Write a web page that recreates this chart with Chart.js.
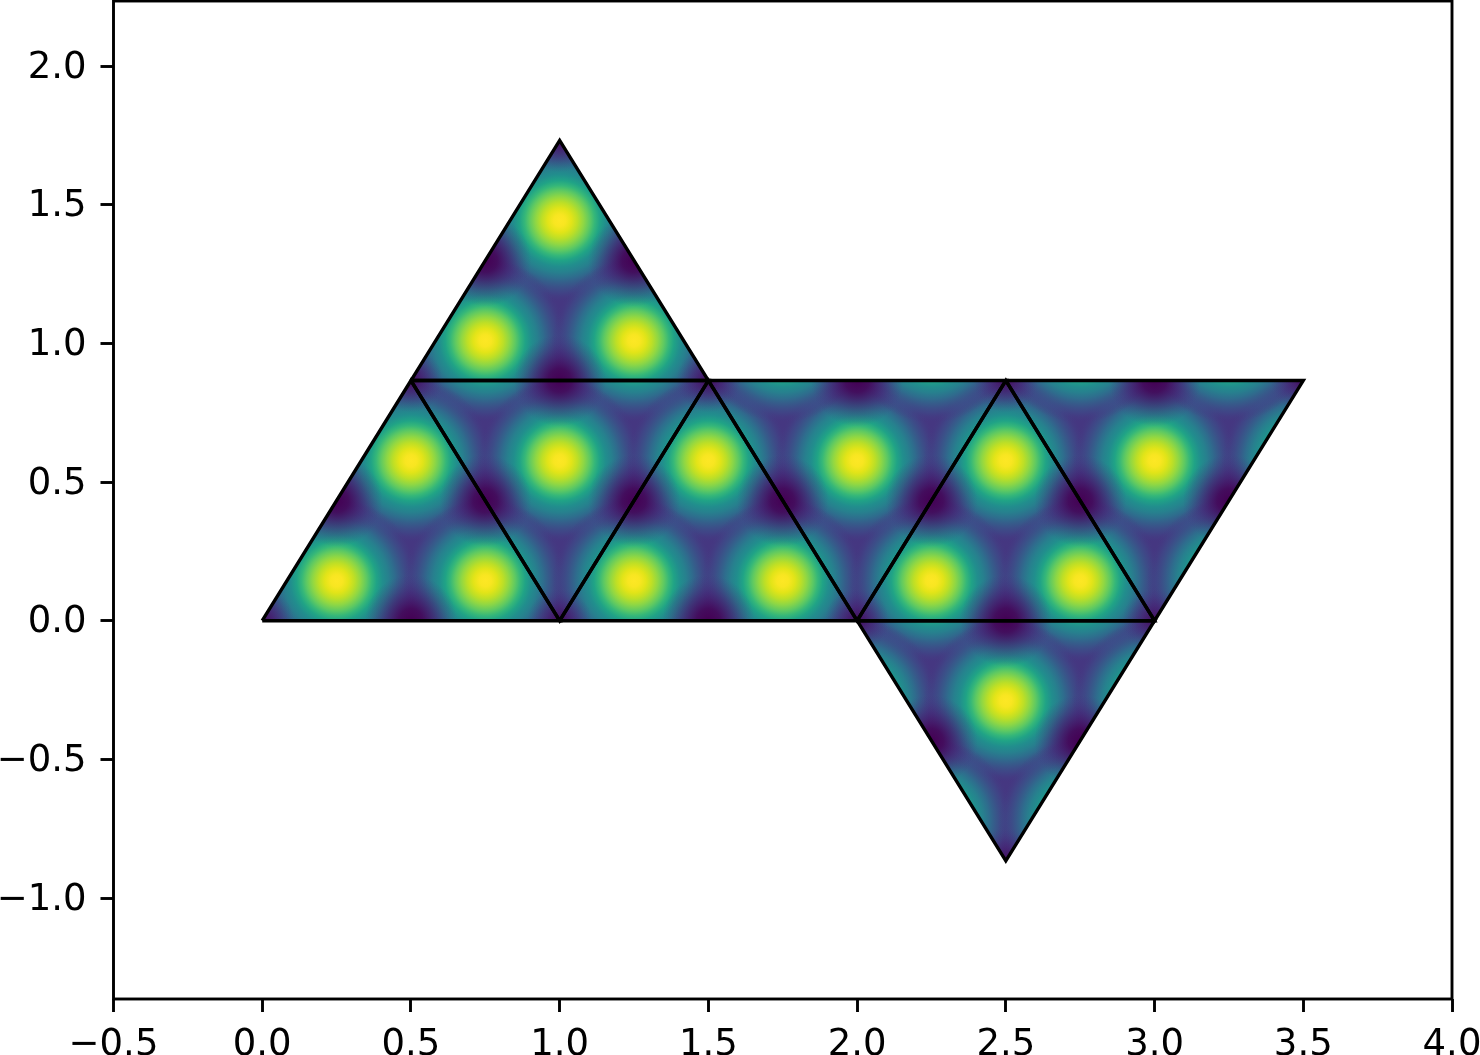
<!DOCTYPE html>
<html>
<head>
<meta charset="utf-8">
<title>net</title>
<script src="https://cdn.jsdelivr.net/npm/chart.js@4/dist/chart.umd.js"></script>
<style>
html, body { margin: 0; padding: 0; background: #fff; overflow: hidden; }
canvas { display: block; }
</style>
</head>
<body>
<canvas id="chart" width="1480" height="1055"></canvas>
<script>
// axis ticks
const xTickValues = [-0.5, 0, 0.5, 1, 1.5, 2, 2.5, 3, 3.5, 4];
const yTickValues = [-1, -0.5, 0, 0.5, 1, 1.5, 2];

// triangle faces of the net, three corners each
const faceX = [
  [0, 1, 0.5], [0.5, 1.5, 1], [1, 2, 1.5], [1.5, 2.5, 2],
  [2, 3, 2.5], [2.5, 3.5, 3], [0.5, 1.5, 1], [2, 3, 2.5]
];
const faceY = [
  [0, 0, 0.866], [0.866, 0.866, 0], [0, 0, 0.866], [0.866, 0.866, 0],
  [0, 0, 0.866], [0.866, 0.866, 0], [0.866, 0.866, 1.732], [0, 0, -0.866]
];

// outer boundary of the net
const outlineX = [0, 2, 2.5, 3, 3.5, 1.5, 1, 0];
const outlineY = [0, 0, -0.866, 0, 0.866, 0.866, 1.732, 0];

// bright spots (some sit just outside the net, only their tails show)
const peakX = [
  1,
  0.5, 1.5, 0.75, 1.25,
  0, 0.5, 1, 1.5, 2, 2.5, 3, 3.5,
  -0.25, 0.25, 0.75, 1.25, 1.75, 2.25, 2.75, 3.25,
  0.25, 1.75, 2.25, 2.75, 3.25, 3.75,
  2, 2.5, 3, 2.25, 2.75
];
const peakY = [
  1.443,
  1.443, 1.443, 1.01, 1.01,
  0.577, 0.577, 0.577, 0.577, 0.577, 0.577, 0.577, 0.577,
  0.144, 0.144, 0.144, 0.144, 0.144, 0.144, 0.144, 0.144,
  1.01, 1.01, 1.01, 1.01, 1.01, 1.01,
  -0.289, -0.289, -0.289, -0.722, -0.722
];

// dark spots at the edge middles
const dipX = [0.25, 0.75, 0.5, 1.25, 1, 0.75, 1.25, 1.5, 1.75, 2, 2.25, 2.75, 2.5, 3, 3.25, 2.25, 2.75];
const dipY = [0.433, 0.433, 0, 0.433, 0.866, 1.299, 1.299, 0, 0.433, 0.866, 0.433, 0.433, 0, 0.866, 0.433, -0.433, -0.433];

// smaller dark spots at the corners
const cornerX = [0, 1, 2, 3, 0.5, 1.5, 2.5, 3.5, 1, 2.5];
const cornerY = [0, 0, 0, 0, 0.866, 0.866, 0.866, 0.866, 1.732, -0.866];

const baseColor = '#453781';

function pairs(xs, ys) {
  return xs.map((x, i) => ({ x: x, y: ys[i] }));
}

function radial(ctx, stops, radius) {
  if (!ctx.parsed) return 'rgba(0,0,0,0)';
  const chart = ctx.chart;
  const px = chart.scales.x.getPixelForValue(ctx.parsed.x);
  const py = chart.scales.y.getPixelForValue(ctx.parsed.y);
  // scales have no size yet on the first pass
  if (!isFinite(px) || !isFinite(py)) return 'rgba(0,0,0,0)';
  const g = chart.ctx.createRadialGradient(px, py, 0, px, py, radius);
  stops.forEach(s => g.addColorStop(s[0] / radius, s[1]));
  return g;
}

// viridis going out from the middle of a bright spot
const peakStops = [
  [0, '#fde725'], [6, '#f8e621'], [12, '#e2e418'], [18, '#bddf26'], [24, '#8fd744'],
  [30, '#5ec962'], [35, '#35b779'], [40, '#20a386'], [46, '#218e8d'], [52, '#27808e'],
  [58, 'rgba(45,112,142,0.95)'], [65, 'rgba(51,99,141,0.7)'], [72, 'rgba(58,84,140,0.45)'],
  [82, 'rgba(69,55,129,0)']
];
const dipStops = [[0, 'rgba(68,1,84,1)'], [12, 'rgba(68,1,84,0.8)'], [28, 'rgba(70,25,110,0.45)'], [46, 'rgba(69,55,129,0)']];
const cornerStops = [[0, 'rgba(68,1,84,0.8)'], [18, 'rgba(70,25,110,0.35)'], [32, 'rgba(69,55,129,0)']];

// outlines first: chart.js paints the first dataset on top
const edgeSets = faceX.map((xs, i) => ({
  type: 'scatter',
  data: pairs(xs.concat(xs[0]), faceY[i].concat(faceY[i][0])),
  showLine: true,
  borderColor: '#000',
  borderWidth: 3.4,
  pointRadius: 0,
  fill: false,
  tension: 0
}));

const datasets = edgeSets.concat([
  {
    type: 'bubble', data: pairs(dipX, dipY), inNet: true,
    radius: 46, borderWidth: 0,
    backgroundColor: ctx => radial(ctx, dipStops, 46)
  },
  {
    type: 'bubble', data: pairs(cornerX, cornerY), inNet: true,
    radius: 32, borderWidth: 0,
    backgroundColor: ctx => radial(ctx, cornerStops, 32)
  },
  {
    type: 'bubble', data: pairs(peakX, peakY), inNet: true,
    radius: 82, borderWidth: 0,
    backgroundColor: ctx => radial(ctx, peakStops, 82)
  },
  {
    type: 'scatter',
    data: pairs(outlineX, outlineY),
    showLine: true,
    borderWidth: 0,
    borderColor: baseColor,
    backgroundColor: baseColor,
    pointRadius: 0,
    fill: 'shape',
    tension: 0
  }
]);

// keep the spots inside the net
const clipToNet = {
  id: 'clipToNet',
  beforeDatasetDraw(chart, args) {
    if (!chart.data.datasets[args.index].inNet) return;
    const c = chart.ctx;
    c.save();
    c.beginPath();
    outlineX.forEach((x, i) => {
      const px = chart.scales.x.getPixelForValue(x);
      const py = chart.scales.y.getPixelForValue(outlineY[i]);
      if (i === 0) c.moveTo(px, py); else c.lineTo(px, py);
    });
    c.closePath();
    c.clip();
  },
  afterDatasetDraw(chart, args) {
    if (chart.data.datasets[args.index].inNet) chart.ctx.restore();
  }
};

// box round the plot, and y labels a touch lower
const frame = {
  id: 'frame',
  beforeDraw(chart) {
    const a = chart.chartArea;
    chart.scales.y.getLabelItems(a).forEach(item => { item.textOffset = 2; });
  },
  afterDraw(chart) {
    const a = chart.chartArea;
    const c = chart.ctx;
    c.save();
    c.strokeStyle = '#000';
    c.lineWidth = 2.9;
    c.strokeRect(a.left, a.top, a.right - a.left, a.bottom - a.top);
    c.restore();
  }
};

function tickLabel(v) {
  return v.toFixed(1).replace('-', '\u2212');
}

const tickFont = { family: '"DejaVu Sans"', size: 37 };

new Chart(document.getElementById('chart'), {
  type: 'scatter',
  data: { datasets: datasets },
  plugins: [clipToNet, frame],
  options: {
    responsive: false,
    animation: false,
    events: [],
    layout: { autoPadding: false, padding: { top: 1, right: 28, left: 0, bottom: 0 } },
    plugins: { legend: { display: false }, tooltip: { enabled: false } },
    scales: {
      x: {
        type: 'linear',
        min: -0.5,
        max: 4,
        afterBuildTicks: s => { s.ticks = xTickValues.map(v => ({ value: v })); },
        afterFit: s => { s.height = 56; s.paddingLeft = 0; s.paddingRight = 0; },
        border: { display: false },
        grid: { drawOnChartArea: false, tickLength: 13, tickColor: '#000', tickWidth: 2.9 },
        ticks: { color: '#000', font: tickFont, padding: 11, maxRotation: 0, autoSkip: false, callback: tickLabel }
      },
      y: {
        type: 'linear',
        min: -1.364,
        max: 2.2345,
        afterBuildTicks: s => { s.ticks = yTickValues.map(v => ({ value: v })); },
        afterFit: s => { s.width = 113.5; s.paddingTop = 0; s.paddingBottom = 0; },
        border: { display: false },
        grid: { drawOnChartArea: false, tickLength: 13, tickColor: '#000', tickWidth: 2.9 },
        ticks: { color: '#000', font: tickFont, padding: 14, autoSkip: false, callback: tickLabel }
      }
    }
  }
});
</script>
</body>
</html>
